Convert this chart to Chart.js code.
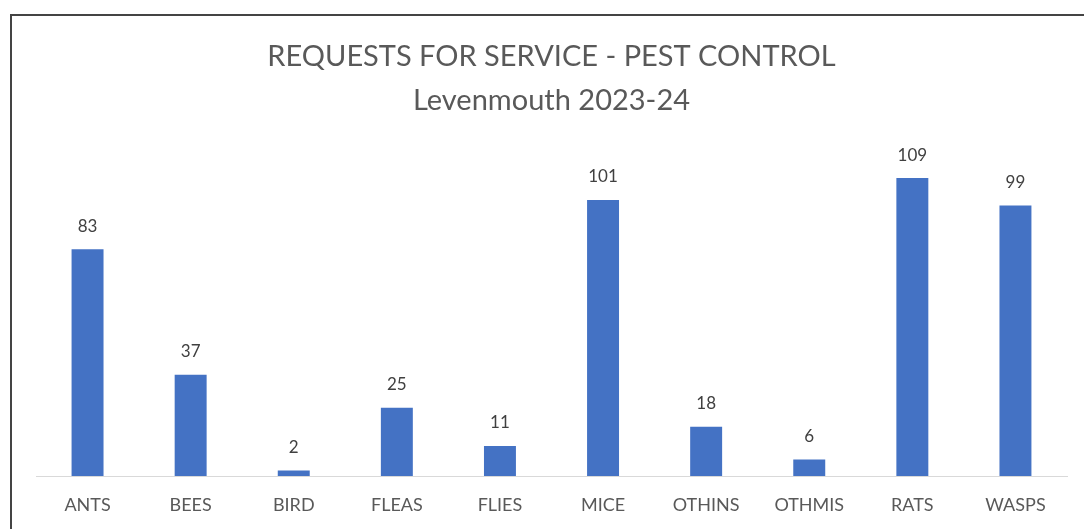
<!DOCTYPE html>
<html>
<head>
<meta charset="utf-8">
<script src="https://cdn.jsdelivr.net/npm/chart.js@4.4.1/dist/chart.umd.min.js"></script>
<style>
  body { margin: 0; background: #fff; }
  #frame {
    position: absolute; left: 10px; top: 14px; width: 1090px; height: 530px;
    border-left: 2px solid #444; border-top: 2px solid #444;
  }
  #pest-canvas { position: absolute; left: 0; top: 0; }
</style>
</head>
<body>
<div id="frame"></div>
<canvas id="pest-canvas" width="1084" height="529"></canvas>
<script>
var pests = ['ANTS', 'BEES', 'BIRD', 'FLEAS', 'FLIES', 'MICE', 'OTHINS', 'OTHMIS', 'RATS', 'WASPS'];
var requests = [83, 37, 2, 25, 11, 101, 18, 6, 109, 99];
var titleLines = ['REQUESTS FOR SERVICE - PEST CONTROL', 'Levenmouth 2023-24'];

// draws the number above each bar
var valueLabels = {
  id: 'valueLabels',
  afterDatasetsDraw: function(chart) {
    var ctx = chart.ctx;
    var meta = chart.getDatasetMeta(0);
    ctx.save();
    ctx.font = '17px Lato, "Open Sans", sans-serif';
    ctx.fillStyle = '#404040';
    ctx.textAlign = 'center';
    ctx.textBaseline = 'middle';
    for (var i = 0; i < meta.data.length; i++) {
      var bar = meta.data[i];
      ctx.fillText(chart.data.datasets[0].data[i], bar.x, bar.y - 23);
    }
    ctx.restore();
  }
};

var chart = new Chart(document.getElementById('pest-canvas').getContext('2d'), {
  type: 'bar',
  data: {
    labels: pests,
    datasets: [{
      label: 'Requests',
      data: requests,
      backgroundColor: '#4472c4',
      borderWidth: 0,
      categoryPercentage: 1,
      barPercentage: 0.31
    }]
  },
  options: {
    responsive: false,
    animation: false,
    layout: { padding: { left: 36, right: 17, top: 35, bottom: 3 } },
    plugins: {
      legend: { display: false },
      tooltip: { enabled: false },
      title: {
        display: true,
        text: titleLines,
        color: '#595959',
        font: { family: 'Lato, "Open Sans", sans-serif', size: 29, weight: 'normal', lineHeight: 1.5 },
        padding: { top: 0, bottom: 26 }
      }
    },
    scales: {
      x: {
        grid: { display: false },
        border: { display: true, color: '#d9d9d9', width: 1 },
        ticks: { color: '#595959', font: { family: 'Lato, "Open Sans", sans-serif', size: 18, lineHeight: 1 }, padding: 12 }
      },
      y: {
        display: false,
        min: 0,
        max: 120
      }
    }
  },
  plugins: [valueLabels]
});
</script>
</body>
</html>
